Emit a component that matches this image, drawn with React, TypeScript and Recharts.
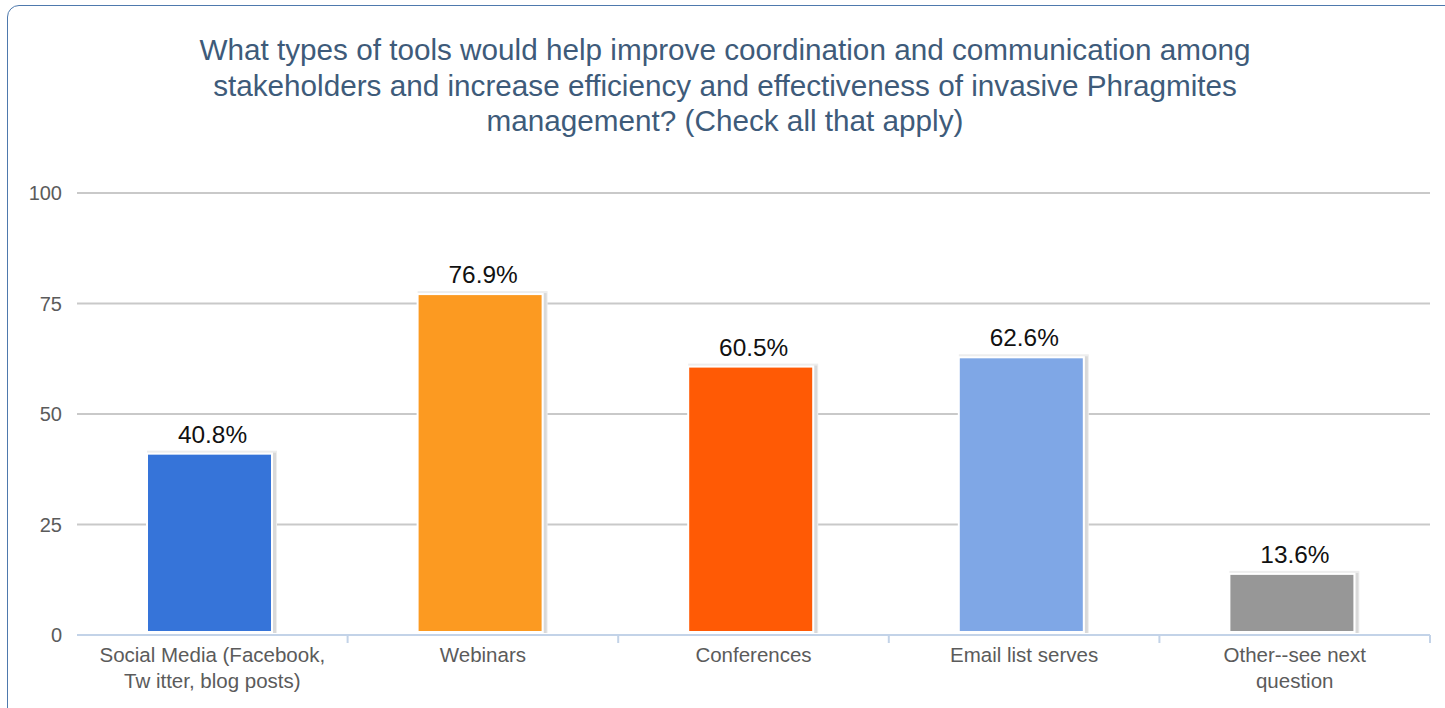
import { BarChart, Bar, XAxis, YAxis, CartesianGrid, Cell, LabelList } from "recharts";

// chart data
const categories = [
  "Social Media (Facebook,\nTw itter, blog posts)",
  "Webinars",
  "Conferences",
  "Email list serves",
  "Other--see next\nquestion",
];
const percentages = [40.8, 76.9, 60.5, 62.6, 13.6];
const yTicks = [0, 25, 50, 75, 100];
const titleLines = [
  "What types of tools would help improve coordination and communication among",
  "stakeholders and increase efficiency and effectiveness of invasive Phragmites",
  "management? (Check all that apply)",
];

const barColors = ["#3674d9", "#fc9a21", "#ff5a05", "#7fa7e6", "#979797"];

const W = 1445;
const H = 708;
const MARGIN = { top: 193, right: 15, bottom: 0, left: 0 };
const Y_AXIS_W = 77;
const X_AXIS_H = 73;
const BAND = (W - MARGIN.left - MARGIN.right - Y_AXIS_W) / categories.length;
const FONT = "'Liberation Sans', Arial, sans-serif";

const data = categories.map((name, i) => ({ name, value: percentages[i] }));

function CategoryTick(props: any) {
  const { x, y, payload } = props;
  const lines = String(payload.value).split("\n");
  const edge = x + BAND / 2;
  return (
    <g>
      <line x1={edge} y1={y} x2={edge} y2={y + 8} stroke="#c3d3e8" strokeWidth={2} />
      <text x={x} y={y} textAnchor="middle" fill="#5b5b5b" fontSize={20.5} fontFamily={FONT}>
        {lines.map((l, i) => (
          <tspan key={i} x={x} dy={i === 0 ? 27 : 26}>
            {l}
          </tspan>
        ))}
      </text>
    </g>
  );
}

// bar with white frame + soft shadow like the original export
function FramedBar(props: any) {
  const { x, y, width, height, fill } = props;
  const bx = x - 3;
  return (
    <g>
      <rect x={bx - 1} y={y - 4} width={width + 7} height={height + 2} fill="#ededed" />
      <rect x={bx + width + 2} y={y - 2} width={3} height={height} fill="#d9d9d9" />
      <rect x={bx - 2} y={y - 2} width={width + 4} height={height} fill="#ffffff" />
      <rect x={bx} y={y} width={width} height={height - 4} fill={fill} />
    </g>
  );
}

export default function App() {
  return (
    <div
      style={{
        position: "fixed",
        left: 0,
        top: 0,
        width: W,
        height: H,
        background: "#fff",
        overflow: "hidden",
        fontFamily: FONT,
      }}
    >
      <div
        style={{
          position: "absolute",
          left: 7,
          top: 5,
          width: 1450,
          height: 740,
          border: "1.5px solid #4e79ad",
          borderRadius: 12,
          boxSizing: "border-box",
        }}
      />
      <div
        style={{
          position: "absolute",
          left: 0,
          top: 32,
          width: 1450,
          textAlign: "center",
          color: "#3e5b7a",
          fontSize: 29.7,
          lineHeight: "35.5px",
        }}
      >
        {titleLines.map((l) => (
          <div key={l}>{l}</div>
        ))}
      </div>
      <div style={{ position: "absolute", left: 0, top: 0 }}>
        <BarChart width={W} height={H} data={data} margin={MARGIN}>
          <CartesianGrid vertical={false} stroke="#c9c9c9" strokeWidth={2} />
          <YAxis
            width={Y_AXIS_W}
            domain={[0, 100]}
            ticks={yTicks}
            axisLine={false}
            tickLine={false}
            tickSize={0}
            tickMargin={15}
            tick={{ fill: "#5b5b5b", fontSize: 20, fontFamily: FONT }}
          />
          <XAxis
            dataKey="name"
            height={X_AXIS_H}
            interval={0}
            axisLine={{ stroke: "#c3d3e8", strokeWidth: 2 }}
            tickLine={false}
            tickSize={0}
            tickMargin={0}
            tick={<CategoryTick />}
          />
          <Bar dataKey="value" barSize={123} shape={<FramedBar />} isAnimationActive={false}>
            {data.map((d, i) => (
              <Cell key={d.name} fill={barColors[i]} />
            ))}
            <LabelList
              dataKey="value"
              position="top"
              offset={12}
              formatter={(v: any) => `${Number(v).toFixed(1)}%`}
              fill="#111"
              fontSize={24.4}
              fontFamily={FONT}
            />
          </Bar>
        </BarChart>
      </div>
    </div>
  );
}
